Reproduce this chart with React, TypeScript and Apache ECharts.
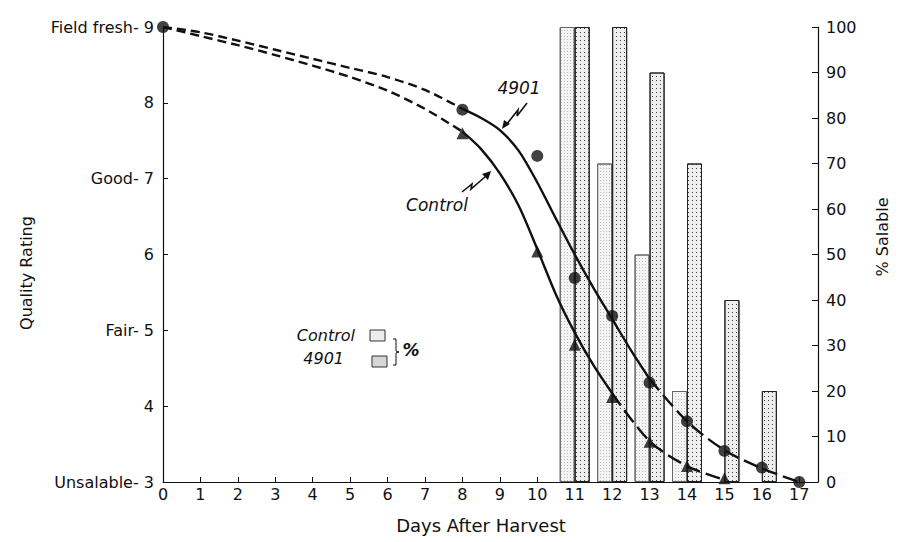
import React, { useEffect, useRef } from 'react';
import * as echarts from 'echarts';

// ---- Data ----
const dayTicks = [0, 1, 2, 3, 4, 5, 6, 7, 8, 9, 10, 11, 12, 13, 14, 15, 16, 17];
const qualityTickNames: Record<number, string> = {
  9: 'Field fresh- 9',
  8: '8',
  7: 'Good- 7',
  6: '6',
  5: 'Fair- 5',
  4: '4',
  3: 'Unsalable- 3',
};

// % salable bars
const barDaysControl = [11, 12, 13, 14];
const salableControl = [100, 70, 50, 20];
const barDays4901 = [11, 12, 13, 14, 15, 16];
const salable4901 = [100, 100, 90, 70, 40, 20];

// observed quality ratings (markers)
const obsDays4901 = [0, 8, 10, 11, 12, 13, 14, 15, 16, 17];
const obs4901 = [9, 7.91, 7.3, 5.69, 5.19, 4.31, 3.8, 3.41, 3.19, 3.0];
const obsDaysControl = [8, 10, 11, 12, 13, 14, 15];
const obsControl = [7.6, 6.04, 4.81, 4.12, 3.53, 3.21, 3.05];

// hand-drawn fitted curves, read at sample days
const curveDays4901Early = [0, 1, 2, 3, 4, 5, 6, 7, 8];
const curve4901Early = [9, 8.93, 8.82, 8.7, 8.58, 8.46, 8.34, 8.17, 7.92];
const curveDays4901Mid = [8, 8.5, 9, 9.5, 10, 10.5, 11, 11.5, 12, 12.5, 13];
const curve4901Mid = [7.92, 7.8, 7.64, 7.37, 6.95, 6.47, 6.0, 5.56, 5.15, 4.74, 4.36];
const curveDays4901Late = [13, 14, 15, 16, 17];
const curve4901Late = [4.36, 3.8, 3.42, 3.18, 3.0];

const curveDaysControlEarly = [0, 1, 2, 3, 4, 5, 6, 7, 8];
const curveControlEarly = [9, 8.88, 8.76, 8.63, 8.49, 8.34, 8.16, 7.92, 7.62];
const curveDaysControlMid = [8, 8.5, 9, 9.5, 10, 10.5, 11, 11.5, 12];
const curveControlMid = [7.62, 7.39, 7.07, 6.645, 6.07, 5.47, 4.97, 4.54, 4.17];
const curveDaysControlLate = [12, 13, 14, 15];
const curveControlLate = [4.17, 3.54, 3.21, 3.03];

const pairs = (xs: number[], ys: number[]) => xs.map((x, i) => [x, ys[i]]);

const FONT = 'DejaVu Sans';
const INK = '#111';

export default function App() {
  const ref = useRef<HTMLDivElement>(null);

  useEffect(() => {
    if (!ref.current) return;
    const chart = echarts.init(ref.current, undefined, { renderer: 'svg' });

    const lineSeries = (data: number[][], type: any) => ({
      type: 'line',
      data,
      smooth: 0.3,
      showSymbol: false,
      symbol: 'none',
      silent: true,
      z: 5,
      lineStyle: { color: INK, width: 2.4, type },
    });

    const option: any = {
      animation: false,
      backgroundColor: '#fff',
      grid: { left: 163, right: 87, top: 27, bottom: 60, containLabel: false },
      xAxis: {
        type: 'value',
        min: 0,
        max: 17.5,
        interval: 1,
        splitLine: { show: false },
        axisLine: { onZero: false, lineStyle: { color: INK, width: 1.2 } },
        axisTick: { inside: true, length: 5, lineStyle: { color: INK } },
        axisLabel: {
          color: INK,
          fontFamily: FONT,
          fontSize: 16,
          margin: 4,
          formatter: (v: number) => (dayTicks.includes(v) ? String(v) : ''),
        },
      },
      yAxis: [
        {
          type: 'value',
          min: 3,
          max: 9,
          interval: 1,
          position: 'left',
          splitLine: { show: false },
          axisLine: { show: true, lineStyle: { color: INK, width: 1.2 } },
          axisTick: { show: true, inside: true, length: 5, lineStyle: { color: INK } },
          axisLabel: {
            color: INK,
            fontFamily: FONT,
            fontSize: 16,
            margin: 9,
            formatter: (v: number) => qualityTickNames[v] ?? '',
          },
        },
        {
          type: 'value',
          min: 0,
          max: 100,
          interval: 10,
          position: 'right',
          splitLine: { show: false },
          axisLine: { show: true, lineStyle: { color: INK, width: 1.2 } },
          axisTick: { show: true, inside: true, length: 6, lineStyle: { color: INK } },
          axisLabel: { color: INK, fontFamily: FONT, fontSize: 16, margin: 8 },
        },
      ],
      series: [
        {
          name: 'Control %',
          type: 'bar',
          yAxisIndex: 1,
          barWidth: 15,
          barGap: '0%',
          z: 1,
          silent: true,
          data: pairs(barDaysControl, salableControl),
          itemStyle: {
            color: '#f4f4f4',
            borderColor: '#666',
            borderWidth: 1,
            decal: {
              symbol: 'rect',
              symbolSize: 1,
              color: 'rgba(120,120,120,0.45)',
              dashArrayX: [1, 2],
              dashArrayY: [1, 2],
            },
          },
        },
        {
          name: '4901 %',
          type: 'bar',
          yAxisIndex: 1,
          barWidth: 15,
          barGap: '0%',
          z: 1,
          silent: true,
          data: pairs(barDays4901, salable4901),
          itemStyle: {
            color: '#eeeeee',
            borderColor: '#222',
            borderWidth: 1,
            decal: {
              symbol: 'rect',
              symbolSize: 1,
              color: 'rgba(20,20,20,0.8)',
              dashArrayX: [1, 3],
              dashArrayY: [1, 3],
            },
          },
        },
        lineSeries(pairs(curveDays4901Early, curve4901Early), [9, 5]),
        lineSeries(pairs(curveDays4901Mid, curve4901Mid), 'solid'),
        lineSeries(pairs(curveDays4901Late, curve4901Late), [15, 6]),
        lineSeries(pairs(curveDaysControlEarly, curveControlEarly), [9, 5]),
        lineSeries(pairs(curveDaysControlMid, curveControlMid), 'solid'),
        lineSeries(pairs(curveDaysControlLate, curveControlLate), [15, 6]),
        {
          name: '4901',
          type: 'scatter',
          symbol: 'circle',
          symbolSize: 12,
          z: 6,
          silent: true,
          itemStyle: { color: INK },
          data: pairs(obsDays4901, obs4901),
        },
        {
          name: 'Control',
          type: 'scatter',
          symbol: 'triangle',
          symbolSize: 12,
          z: 6,
          silent: true,
          itemStyle: { color: INK },
          data: pairs(obsDaysControl, obsControl),
        },
      ],
      graphic: [
        // axis titles
        {
          type: 'text',
          x: 26,
          y: 273,
          rotation: Math.PI / 2,
          style: {
            text: 'Quality Rating',
            font: `16px "${FONT}"`,
            fill: INK,
            align: 'center',
            verticalAlign: 'middle',
          },
        },
        {
          type: 'text',
          x: 882,
          y: 237,
          rotation: Math.PI / 2,
          style: {
            text: '% Salable',
            font: `16px "${FONT}"`,
            fill: INK,
            align: 'center',
            verticalAlign: 'middle',
          },
        },
        {
          type: 'text',
          x: 481,
          y: 525,
          style: {
            text: 'Days After Harvest',
            font: `18px "${FONT}"`,
            fill: INK,
            align: 'center',
            verticalAlign: 'middle',
          },
        },
        // curve annotations
        {
          type: 'text',
          x: 519,
          y: 88,
          style: {
            text: '4901',
            font: `italic 17px "${FONT}"`,
            fill: INK,
            align: 'center',
            verticalAlign: 'middle',
          },
        },
        {
          type: 'polyline',
          shape: { points: [[527, 103], [517, 116], [518, 110], [506, 125]] },
          style: { stroke: INK, lineWidth: 1.6, fill: 'none' },
        },
        {
          type: 'polygon',
          shape: { points: [[502, 129], [504, 120], [510, 124]] },
          style: { fill: INK },
        },
        {
          type: 'text',
          x: 437,
          y: 205,
          style: {
            text: 'Control',
            font: `italic 17px "${FONT}"`,
            fill: INK,
            align: 'center',
            verticalAlign: 'middle',
          },
        },
        {
          type: 'polyline',
          shape: { points: [[462, 192], [472, 184], [471, 189], [486, 176]] },
          style: { stroke: INK, lineWidth: 1.6, fill: 'none' },
        },
        {
          type: 'polygon',
          shape: { points: [[491, 171], [482, 174], [488, 180]] },
          style: { fill: INK },
        },
        // legend
        {
          type: 'text',
          x: 355,
          y: 335,
          style: {
            text: 'Control',
            font: `italic 16px "${FONT}"`,
            fill: INK,
            align: 'right',
            verticalAlign: 'middle',
          },
        },
        {
          type: 'rect',
          shape: { x: 370, y: 330, width: 15, height: 11 },
          style: { fill: '#ececec', stroke: '#333', lineWidth: 1 },
        },
        {
          type: 'text',
          x: 344,
          y: 358,
          style: {
            text: '4901',
            font: `italic 16px "${FONT}"`,
            fill: INK,
            align: 'right',
            verticalAlign: 'middle',
          },
        },
        {
          type: 'rect',
          shape: { x: 372, y: 356, width: 15, height: 11 },
          style: { fill: '#d6d6d6', stroke: '#333', lineWidth: 1 },
        },
        {
          type: 'polyline',
          shape: {
            points: [[393, 339], [396, 339], [396, 351], [399, 352], [396, 353], [396, 365], [393, 365]],
          },
          style: { stroke: INK, lineWidth: 1, fill: 'none' },
        },
        {
          type: 'text',
          x: 411,
          y: 350,
          style: {
            text: '%',
            font: `italic bold 17px "${FONT}"`,
            fill: INK,
            align: 'center',
            verticalAlign: 'middle',
          },
        },
      ],
    };

    chart.setOption(option);
    return () => chart.dispose();
  }, []);

  return (
    <div
      ref={ref}
      style={{ position: 'fixed', left: 0, top: 0, width: 905, height: 542, background: '#fff' }}
    />
  );
}
